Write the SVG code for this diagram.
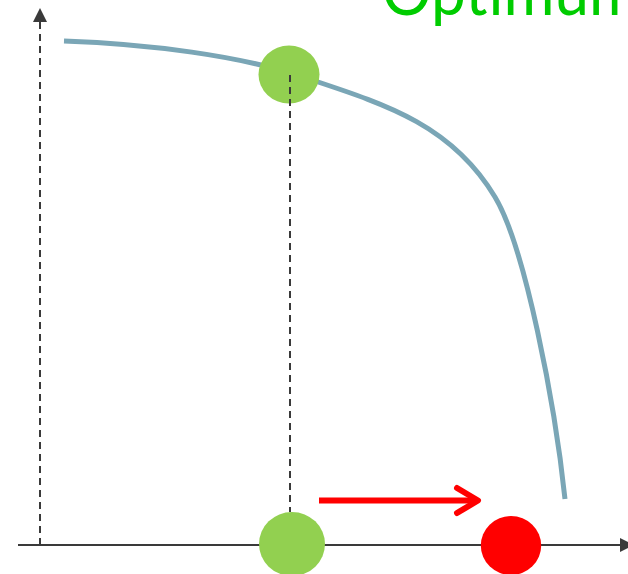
<svg xmlns="http://www.w3.org/2000/svg" width="628" height="574" viewBox="0 0 628 574">
  <style>
    .axis { stroke: #3a3a3a; stroke-width: 2; fill: none; }
    .dash { stroke-dasharray: 7 5; }
    .curve { stroke: #7AA6B6; stroke-width: 5; fill: none; }
    .green { fill: #92D050; }
    .red { fill: #FF0000; }
    .label { font-family: Lato, "Liberation Sans", sans-serif; fill: #00CC00; }
  </style>
  <defs>
    <marker id="axhead" viewBox="0 0 10 10" refX="10" refY="5" markerWidth="7" markerHeight="8" markerUnits="strokeWidth" orient="auto">
      <path d="M0,0 L10,5 L0,10 Z" fill="#3a3a3a"/>
    </marker>
  </defs>
  <rect width="628" height="574" fill="#ffffff"/>

  <g id="axes">
    <line class="axis dash" x1="40" y1="545" x2="40" y2="8" marker-end="url(#axhead)"/>
    <line class="axis" x1="18" y1="545" x2="634" y2="545" marker-end="url(#axhead)"/>
  </g>

  <g id="frontier-curve">
    <path class="curve" d="M64,41 C150,44 240,56 300,76 C380,102.7 450,122 495,197 C525,247 555,404 565,499"/>
  </g>

  <g id="label-optimum">
    <text class="label" x="382" y="15" font-size="66" textLength="258" lengthAdjust="spacingAndGlyphs">Optimum</text>
  </g>

  <g id="node-optimum">
    <ellipse class="green" cx="289" cy="74.5" rx="30.5" ry="29"/>
  </g>

  <g id="node-current">
    <ellipse class="green" cx="292" cy="544" rx="33" ry="32"/>
  </g>

  <g id="node-shifted">
    <ellipse class="red" cx="511" cy="545.5" rx="30.2" ry="29.5"/>
  </g>

  <g id="connectors">
    <line class="axis dash" x1="290" y1="75" x2="290" y2="512"/>
    <line x1="319" y1="500.5" x2="476" y2="500.5" stroke="#FF0000" stroke-width="6"/>
    <polyline points="457,488 478,500.5 457,513" fill="none" stroke="#FF0000" stroke-width="6" stroke-linecap="round" stroke-linejoin="round"/>
  </g>
</svg>
